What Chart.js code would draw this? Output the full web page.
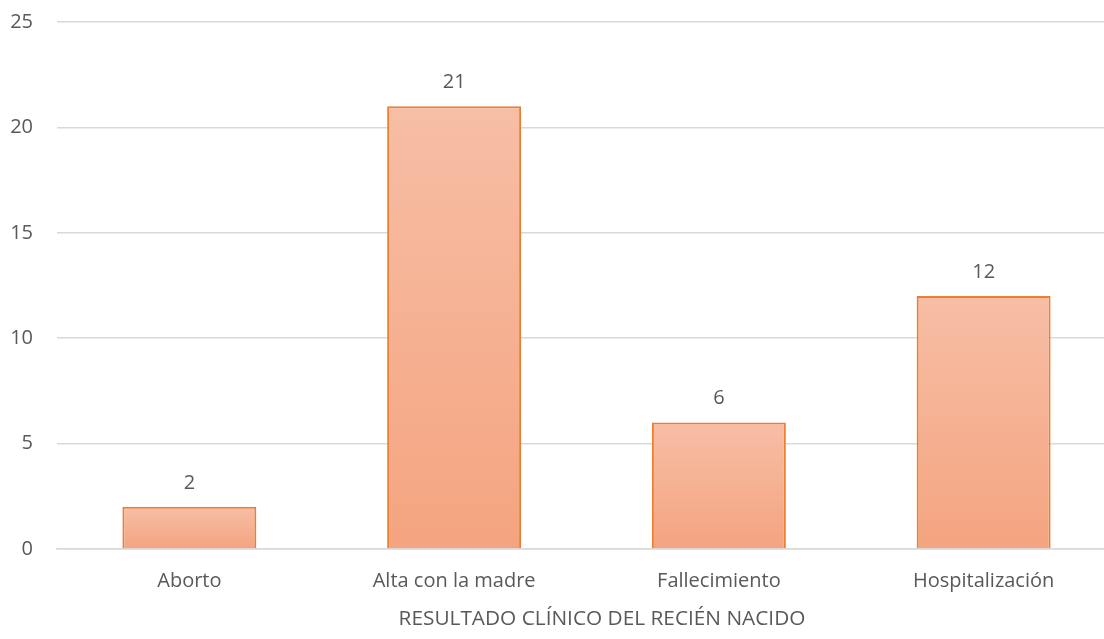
<!DOCTYPE html>
<html>
<head>
<meta charset="utf-8">
<script src="https://cdn.jsdelivr.net/npm/chart.js@4/dist/chart.umd.min.js"></script>
<style>
  html, body { margin: 0; padding: 0; background: #fff; overflow: hidden; }
  #wrap { width: 1116px; height: 639px; }
</style>
</head>
<body>
<div id="wrap"><canvas id="c" width="1116" height="639"></canvas></div>
<script>
// Resultado clínico del recién nacido
const categories = ['Aborto', 'Alta con la madre', 'Fallecimiento', 'Hospitalización'];
const counts = [2, 21, 6, 12];
const yTicks = [0, 5, 10, 15, 20, 25];
const axisTitle = 'RESULTADO CLÍNICO DEL RECIÉN NACIDO';

const FONT = "'Open Sans', 'Liberation Sans', sans-serif";
const TEXT = '#595959';

// vertical gradient per bar: lighter at the top, deeper at the base
function barFill(ctx) {
  const chart = ctx.chart;
  const y = chart.scales.y;
  if (!chart.chartArea || !y || ctx.raw === undefined) return '#F5B08F';
  const top = y.getPixelForValue(ctx.raw);
  const base = y.getPixelForValue(0);
  const g = chart.ctx.createLinearGradient(0, top, 0, base);
  g.addColorStop(0, '#F7BEA6');
  g.addColorStop(1, '#F4A47F');
  return g;
}

// value labels above each bar, plus the category axis title
const annotations = {
  id: 'annotations',
  afterDatasetsDraw(chart) {
    const c = chart.ctx;
    const meta = chart.getDatasetMeta(0);
    c.save();
    c.font = '20px ' + FONT;
    c.fillStyle = TEXT;
    c.textAlign = 'center';
    c.textBaseline = 'middle';
    meta.data.forEach((bar, i) => {
      c.fillText(String(counts[i]), bar.x, bar.y - 24);
    });
    c.font = '20.8px ' + FONT;
    c.fillText(axisTitle, 602, 619);
    c.restore();
  }
};

new Chart(document.getElementById('c'), {
  type: 'bar',
  data: {
    labels: categories,
    datasets: [{
      data: counts,
      backgroundColor: barFill,
      borderColor: '#ED7D31',
      borderWidth: 2,
      barPercentage: 0.506,
      categoryPercentage: 1
    }]
  },
  options: {
    responsive: false,
    animation: false,
    layout: { padding: { top: 22, left: 0, right: 0, bottom: 0 } },
    plugins: { legend: { display: false }, tooltip: { enabled: false } },
    scales: {
      y: {
        min: 0, max: 25,
        afterBuildTicks(scale) { scale.ticks = yTicks.map(v => ({ value: v })); },
        afterFit(scale) { scale.width = 57; },
        border: { display: false },
        grid: { color: '#D9D9D9', lineWidth: 1.5, drawTicks: true, tickLength: 24, tickColor: 'rgba(0,0,0,0)' },
        ticks: { padding: 0, color: TEXT, font: { family: FONT, size: 20 } }
      },
      x: {
        afterFit(scale) { scale.height = 90; },
        border: { display: true, color: '#D9D9D9', width: 1.5 },
        grid: { display: false, drawTicks: false },
        ticks: { padding: 20, color: TEXT, font: { family: FONT, size: 20 }, maxRotation: 0 }
      }
    }
  },
  plugins: [annotations]
});
</script>
</body>
</html>
